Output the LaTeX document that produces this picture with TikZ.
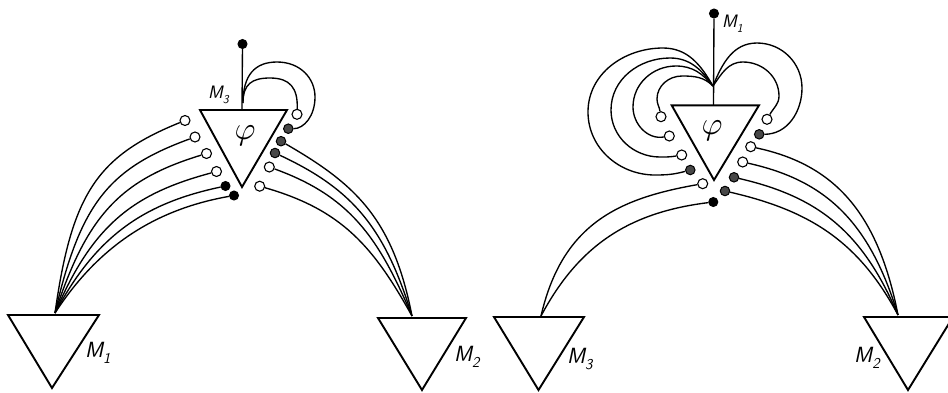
\documentclass[tikz,border=0pt]{standalone}
\begin{document}
\begin{tikzpicture}[x=1pt,y=1pt,
  tri/.style={line width=1.9pt, line join=miter},
  wire/.style={line width=1.35pt},
  opendot/.style={circle, draw, line width=1.1pt, fill=white, minimum size=10pt, inner sep=0pt},
  fulldot/.style={circle, draw, fill=black, line width=1pt, minimum size=9pt, inner sep=0pt},
  hatchdot/.style={circle, draw, fill=black!72, line width=1pt, minimum size=9.5pt, inner sep=0pt},
  mbig/.style={inner sep=0pt, anchor=base west, font=\fontsize{22}{22}\selectfont\sffamily\slshape},
  msmall/.style={inner sep=0pt, anchor=base west, font=\fontsize{18}{18}\selectfont\sffamily\slshape},
  phil/.style={inner sep=0pt}]
\useasboundingbox (0,0) rectangle (948,-392);
\newcommand{\subB}[1]{\raisebox{-0.28em}{\fontsize{15}{15}\selectfont #1}}
\newcommand{\subS}[1]{\raisebox{-0.28em}{\fontsize{12}{12}\selectfont #1}}
\newcommand{\phisym}{\scalebox{3.2}{$\varphi$}}

% ===================== LEFT DIAGRAM =====================
\coordinate (pA) at (200,-110); \coordinate (pB) at (287,-110); \coordinate (pC) at (242,-187);
\draw[tri] (pA) -- (pB) -- (pC) -- cycle;
\node[phil] (phiL) at (245,-136) {\phisym};
\coordinate (m1a) at (8,-315); \coordinate (m1b) at (99,-315); \coordinate (m1c) at (52,-388);
\draw[tri] (m1a) -- (m1b) -- (m1c) -- cycle;
\coordinate (m2a) at (378,-318); \coordinate (m2b) at (466,-318); \coordinate (m2c) at (422,-390);
\draw[tri] (m2a) -- (m2b) -- (m2c) -- cycle;
\coordinate (m1top) at (55,-313);
\coordinate (m2top) at (412,-316);
\node[msmall] (lM3) at (208,-98) {M\subS{3}};
\node[mbig] (lM1) at (85,-357) {M\subB{1}};
\node[mbig] (lM2) at (454,-361) {M\subB{2}};
\node[fulldot] (d1) at (242.5,-44) {};
\coordinate (s1) at (242,-110);
\draw[wire] (d1) -- (s1);
\coordinate (J1) at (243,-103);
\node[opendot] (ol1) at (185,-120.5) {};
\node[opendot] (ol2) at (195,-137) {};
\node[opendot] (ol3) at (206.5,-153.5) {};
\node[opendot] (ol4) at (216.5,-171.5) {};
\node[fulldot] (fl5) at (225.5,-186) {};
\node[fulldot] (fl6) at (234,-195.5) {};
\node[opendot] (lo1) at (297,-114.3) {};
\node[hatchdot] (lh2) at (288.3,-128.7) {};
\node[hatchdot] (hr1) at (281,-141.2) {};
\node[hatchdot] (hr2) at (275,-153) {};
\node[opendot] (or3) at (269.3,-167) {};
\node[opendot] (or4) at (259.7,-186.2) {};
\draw[wire] (J1) .. controls (243,-84) and (252,-78) .. (270,-78)
  .. controls (290,-78) and (298,-88) .. (lo1);
\draw[wire] (J1) .. controls (243,-75) and (255,-62) .. (277,-62)
  .. controls (300,-62) and (315,-78) .. (315,-97)
  .. controls (315,-116) and (304,-128.7) .. (lh2);
\draw[wire] (ol1) .. controls +(202:95pt) and +(82:120pt) .. (m1top);
\draw[wire] (ol2) .. controls +(200:92pt) and +(77:112pt) .. (m1top);
\draw[wire] (ol3) .. controls +(197:89pt) and +(72:104pt) .. (m1top);
\draw[wire] (ol4) .. controls +(195:86pt) and +(67:96pt) .. (m1top);
\draw[wire] (fl5) .. controls +(192:83pt) and +(62:88pt) .. (m1top);
\draw[wire] (fl6) .. controls +(190:80pt) and +(57:80pt) .. (m1top);
\draw[wire] (hr1) .. controls +(330:85pt) and +(101:100pt) .. (m2top);
\draw[wire] (hr2) .. controls +(335:85pt) and +(107:93pt) .. (m2top);
\draw[wire] (or3) .. controls +(340:85pt) and +(113:87pt) .. (m2top);
\draw[wire] (or4) .. controls +(344:85pt) and +(119:80pt) .. (m2top);

% ===================== RIGHT DIAGRAM =====================
\coordinate (qA) at (671.7,-105.3); \coordinate (qB) at (759,-105.3); \coordinate (qC) at (714,-180);
\draw[tri] (qA) -- (qB) -- (qC) -- cycle;
\node[phil] (phiR) at (712,-131) {\phisym};
\coordinate (n3a) at (494,-317); \coordinate (n3b) at (584,-317); \coordinate (n3c) at (538.5,-390);
\draw[tri] (n3a) -- (n3b) -- (n3c) -- cycle;
\coordinate (n2a) at (864,-317); \coordinate (n2b) at (953,-317); \coordinate (n2c) at (908,-390);
\draw[tri] (n2a) -- (n2b) -- (n2c) -- cycle;
\coordinate (m3rtop) at (541,-316);
\coordinate (m2rtop) at (898,-315);
\node[msmall] (rM1) at (722,-27) {M\subS{1}};
\node[mbig] (rM3) at (567,-363) {M\subB{3}};
\node[mbig] (rM2) at (854,-362) {M\subB{2}};
\node[fulldot] (d2) at (714,-13.5) {};
\coordinate (s2) at (713.5,-105.3);
\draw[wire] (d2) -- (s2);
\coordinate (J2) at (713,-86);
\node[opendot] (ra) at (661,-116.7) {};
\node[opendot] (rb) at (669.3,-136) {};
\node[opendot] (rc) at (681.7,-155) {};
\node[hatchdot] (rd) at (690.3,-170) {};
\node[opendot] (re) at (767,-119.3) {};
\node[hatchdot] (rf) at (759.2,-134.3) {};
\node[opendot] (rg) at (702.7,-183.7) {};
\node[fulldot] (rh) at (713.3,-202) {};
\node[opendot] (ri) at (750.7,-146.7) {};
\node[opendot] (rj) at (742.7,-162) {};
\node[hatchdot] (rk) at (734,-177.3) {};
\node[hatchdot] (rl) at (725,-191) {};
\draw[wire] (J2) to[out=135,in=0] (682,-76) to[out=180,in=90] (657,-99) to[out=270,in=100] (ra);
\draw[wire] (J2) to[out=130,in=0] (676,-66) to[out=180,in=90] (633,-107)
  to[out=270,in=190] (rb);
\draw[wire] (J2) to[out=125,in=0] (670,-58) to[out=180,in=90] (611,-110)
  to[out=270,in=180] (660,-157) to[out=0,in=190] (rc);
\draw[wire] (J2) to[out=120,in=0] (663,-48) to[out=180,in=90] (588,-112)
  to[out=270,in=180] (655,-175) to[out=0,in=195] (rd);
\draw[wire] (J2) to[out=55,in=180] (743,-62) to[out=0,in=90] (779,-96) to[out=270,in=60] (re);
\draw[wire] (J2) to[out=68,in=180] (757,-43) to[out=0,in=90] (802,-88) to[out=270,in=0] (rf);
\draw[wire] (rg) .. controls +(190:85pt) and +(77:95pt) .. (m3rtop);
\draw[wire] (rh) .. controls +(187:85pt) and +(62:80pt) .. (m3rtop);
\draw[wire] (ri) .. controls +(348:85pt) and +(101:105pt) .. (m2rtop);
\draw[wire] (rj) .. controls +(347.5:85pt) and +(107:98pt) .. (m2rtop);
\draw[wire] (rk) .. controls +(347:85pt) and +(113:92pt) .. (m2rtop);
\draw[wire] (rl) .. controls +(347:85pt) and +(118:85pt) .. (m2rtop);
\end{tikzpicture}
\end{document}
